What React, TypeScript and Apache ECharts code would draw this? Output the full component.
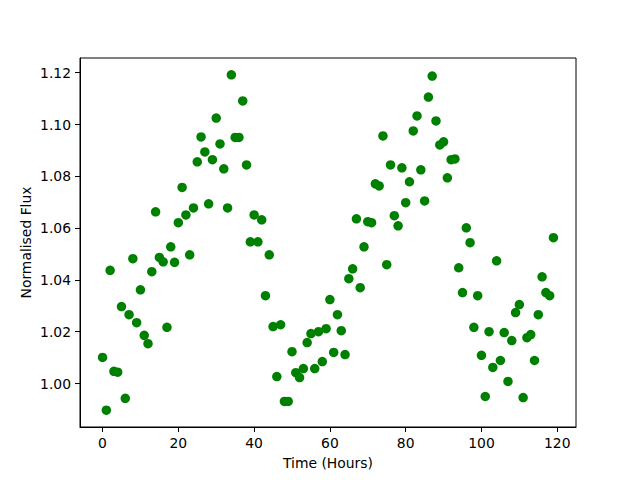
import React, { useEffect, useRef } from "react";
import * as echarts from "echarts";

const hours: number[] = Array.from({ length: 120 }, (_, i) => i);
const flux: number[] = [
  1.0101, 0.9897, 1.0437, 1.0047, 1.0044, 1.0297, 0.9943, 1.0266, 1.0482, 1.0235,
  1.0362, 1.0186, 1.0154, 1.0432, 1.0663, 1.0487, 1.047, 1.0217, 1.0528, 1.0468,
  1.0621, 1.0757, 1.0651, 1.0497, 1.0678, 1.0856, 1.0952, 1.0894, 1.0694, 1.0864,
  1.1025, 1.0925, 1.0829, 1.0678, 1.1192, 1.095, 1.095, 1.1091, 1.0844, 1.0547,
  1.0651, 1.0547, 1.0632, 1.0339, 1.0497, 1.022, 1.0027, 1.0227, 0.9931, 0.9931,
  1.0123, 1.0042, 1.0023, 1.0058, 1.0158, 1.0193, 1.0058, 1.02, 1.0085, 1.0212,
  1.0324, 1.012, 1.0266, 1.0204, 1.0112, 1.0405, 1.0443, 1.0636, 1.037, 1.0528,
  1.0625, 1.0621, 1.0771, 1.0763, 1.0956, 1.0459, 1.0844, 1.0648, 1.0609, 1.0833,
  1.0698, 1.0779, 1.0975, 1.1033, 1.0825, 1.0705, 1.1106, 1.1187, 1.1014, 1.0921,
  1.0933, 1.0794, 1.0864, 1.0867, 1.0447, 1.0351, 1.0601, 1.0544, 1.0217, 1.0339,
  1.0109, 0.995, 1.02, 1.0062, 1.0474, 1.0089, 1.0197, 1.0008, 1.0166, 1.0274,
  1.0305, 0.9946, 1.0177, 1.0189, 1.0089, 1.0266, 1.0412, 1.0351, 1.0339, 1.0563,
];
const xTicks: number[] = [0, 20, 40, 60, 80, 100, 120];
const yTicks: number[] = [1.0, 1.02, 1.04, 1.06, 1.08, 1.1, 1.12];

export default function App() {
  const ref = useRef<HTMLDivElement>(null);
  useEffect(() => {
    if (!ref.current) return;
    const chart = echarts.init(ref.current, undefined, { renderer: "svg" });
    const xMin = Math.min(...hours), xMax = Math.max(...hours);
    const yMin = Math.min(...flux), yMax = Math.max(...flux);
    const xPad = (xMax - xMin) * 0.05, yPad = (yMax - yMin) * 0.05;
    const font = "DejaVu Sans";
    chart.setOption({
      animation: false,
      backgroundColor: "#fff",
      grid: {
        left: 80, top: 58, width: 496, height: 369,
        show: true, borderColor: "#000", borderWidth: 1, backgroundColor: "transparent",
      },
      xAxis: {
        type: "value",
        min: xMin - xPad, max: xMax + xPad,
        name: "Time (Hours)", nameLocation: "middle", nameGap: 29, nameMoveOverlap: false,
        nameTextStyle: { fontFamily: font, fontSize: 13.9, color: "#000" },
        axisLine: { show: true, onZero: false, lineStyle: { color: "#000", width: 1 } },
        axisTick: { show: true, length: 5, lineStyle: { color: "#000" }, customValues: xTicks },
        axisLabel: { customValues: xTicks, margin: 9, fontFamily: font, fontSize: 13.9, color: "#000",
          formatter: (v: number) => String(Math.round(v)) },
        splitLine: { show: false },
      },
      yAxis: {
        type: "value",
        min: yMin - yPad, max: yMax + yPad,
        name: "Normalised Flux", nameLocation: "middle", nameGap: 47, nameRotate: 90, nameMoveOverlap: false,
        nameTextStyle: { fontFamily: font, fontSize: 13.9, color: "#000" },
        axisLine: { show: true, onZero: false, lineStyle: { color: "#000", width: 1 } },
        axisTick: { show: true, length: 5, lineStyle: { color: "#000" }, customValues: yTicks },
        axisLabel: { customValues: yTicks, margin: 9, fontFamily: font, fontSize: 13.9, color: "#000",
          formatter: (v: number) => v.toFixed(2) },
        splitLine: { show: false },
      },
      series: [
        {
          type: "scatter",
          data: hours.map((h, i) => [h, flux[i]]),
          symbol: "circle",
          symbolSize: 9.5,
          itemStyle: { color: "#008000", opacity: 1 },
        },
      ],
    });
    return () => chart.dispose();
  }, []);
  return <div ref={ref} style={{ position: "fixed", left: 0, top: 0, width: 640, height: 480 }} />;
}
